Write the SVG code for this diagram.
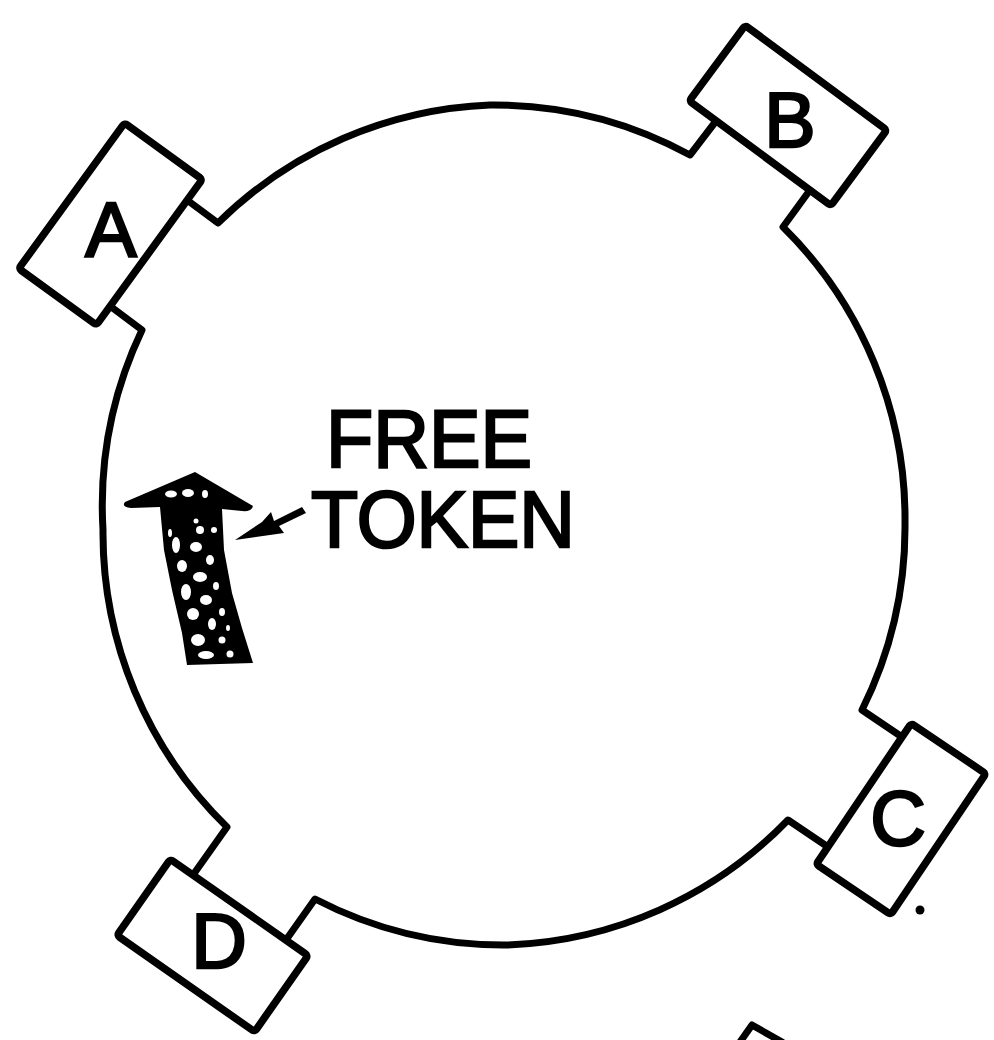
<svg xmlns="http://www.w3.org/2000/svg" width="994" height="1040" viewBox="0 0 994 1040">
  <style>
    .ring{fill:none;stroke:#000;stroke-width:7;stroke-linejoin:round;stroke-linecap:round}
    .box{fill:#fff;stroke:#000;stroke-width:7.5;stroke-linejoin:round}
    .lbl{font-family:"Liberation Sans",Arial,sans-serif;font-size:77px;fill:#000;stroke:#000;stroke-width:2.5;text-anchor:middle}
    .cap{font-family:"Liberation Sans",Arial,sans-serif;font-size:82px;fill:#000;stroke:#000;stroke-width:2.5}
    .hole{fill:#fff}
  </style>
  <rect width="994" height="1040" fill="#fff"/>

  <g id="connectors">
    <path class="ring" d="M187,200 L218,223 A410,410 0 0 1 490,105 A410,410 0 0 1 690,155 L716,121"/>
    <path class="ring" d="M810,190 L783,227 A410,410 0 0 1 905,523 A410,410 0 0 1 862,710 L902,737"/>
    <path class="ring" d="M828,847 L788,820 A410,410 0 0 1 507,945 A410,410 0 0 1 315,899 L286,940"/>
    <path class="ring" d="M193,875 L227,827 A410,410 0 0 1 103,530 A410,410 0 0 1 142,330 L110,306"/>
  </g>

  <g id="station-A">
    <rect class="box" x="-48" y="-90" width="96" height="180" rx="3" transform="translate(110.5,224) rotate(36)"/>
    <text class="lbl" x="111" y="257">A</text>
  </g>
  <g id="station-B">
    <rect class="box" x="-88" y="-47" width="176" height="94" rx="3" transform="translate(788,115.5) rotate(36.5)"/>
    <text class="lbl" x="790" y="147">B</text>
  </g>
  <g id="station-C">
    <rect class="box" x="-45" y="-85" width="90" height="170" rx="3" transform="translate(901,819) rotate(34)"/>
    <text class="lbl" x="898" y="845">C</text>
  </g>
  <g id="station-D">
    <rect class="box" x="-84" y="-46.5" width="168" height="93" rx="3" transform="translate(212.5,945.5) rotate(35)"/>
    <text class="lbl" x="219" y="968">D</text>
  </g>

  <g id="free-token">
    <path fill="#000" d="M125,502 L195,472 L253,506 Q252,512 242,511 L222,509 L224,550 L232,593 L242,628 L253,663 L187,665 L182,633 L172,590 L164,550 L160,507 L131,508 Q121,507 125,502 Z"/>
    <ellipse class="hole" cx="171" cy="494" rx="6" ry="3.5"/>
    <ellipse class="hole" cx="188" cy="493" rx="6" ry="4"/>
    <ellipse class="hole" cx="205" cy="494" rx="3" ry="4"/>
    <circle class="hole" cx="196" cy="521" r="2.5"/>
    <ellipse class="hole" cx="200" cy="530" rx="4" ry="4"/>
    <ellipse class="hole" cx="170" cy="533" rx="2" ry="4"/>
    <ellipse class="hole" cx="214" cy="530" rx="3" ry="3"/>
    <ellipse class="hole" cx="176" cy="545" rx="4" ry="8"/>
    <ellipse class="hole" cx="196" cy="547" rx="6" ry="5"/>
    <ellipse class="hole" cx="210" cy="560" rx="4" ry="5"/>
    <ellipse class="hole" cx="182" cy="566" rx="5" ry="6"/>
    <ellipse class="hole" cx="200" cy="577" rx="7" ry="5"/>
    <ellipse class="hole" cx="186" cy="592" rx="5" ry="8"/>
    <ellipse class="hole" cx="206" cy="600" rx="6" ry="5"/>
    <ellipse class="hole" cx="216" cy="586" rx="3" ry="4"/>
    <ellipse class="hole" cx="193" cy="614" rx="6" ry="6"/>
    <ellipse class="hole" cx="212" cy="624" rx="4" ry="6"/>
    <ellipse class="hole" cx="222" cy="612" rx="3" ry="4"/>
    <ellipse class="hole" cx="198" cy="640" rx="7" ry="6"/>
    <circle class="hole" cx="222" cy="640" r="3.5"/>
    <ellipse class="hole" cx="206" cy="655" rx="8" ry="4"/>
    <circle class="hole" cx="230" cy="654" r="3.5"/>
    <ellipse class="hole" cx="228" cy="628" rx="2" ry="3"/>
  </g>

  <g id="label-free-token">
    <path fill="#000" d="M235,540 L262,522 L271,512 L274,521 L302,507 L306,513 L279,526 L284,533 Z"/>
    <text class="cap" x="326" y="467" textLength="206" lengthAdjust="spacingAndGlyphs">FREE</text>
    <text class="cap" x="311" y="547" style="font-size:80px" textLength="264" lengthAdjust="spacingAndGlyphs">TOKEN</text>
  </g>

  <g id="marks">
    <polyline class="ring" points="740,1042 752,1025 782,1042"/>
    <circle cx="920" cy="910" r="4.5" fill="#000"/>
  </g>
</svg>
